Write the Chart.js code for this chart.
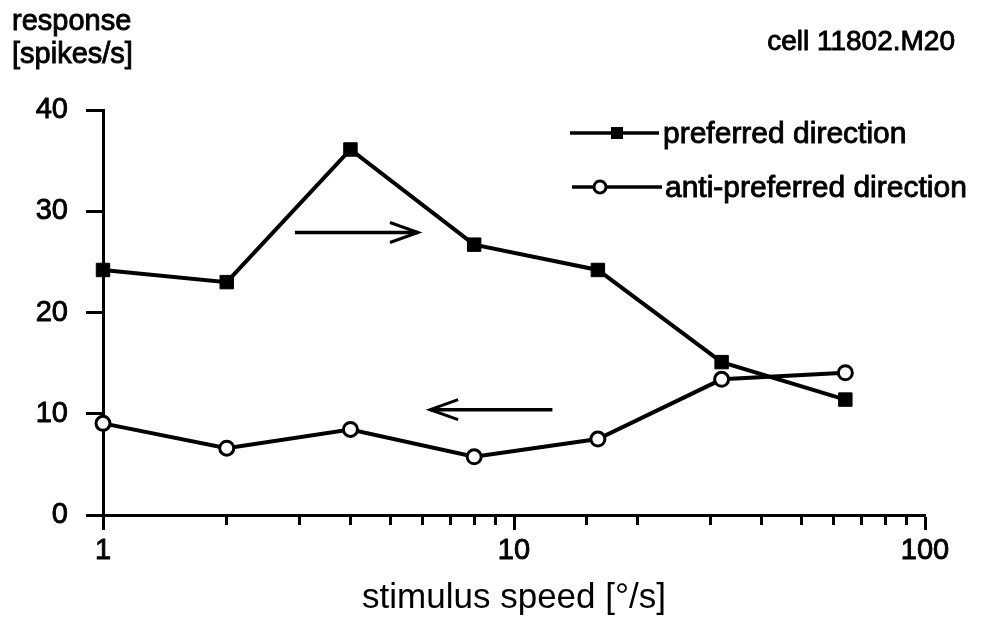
<!DOCTYPE html>
<html>
<head>
<meta charset="utf-8">
<title>speed tuning</title>
<script src="https://cdn.jsdelivr.net/npm/chart.js@4.4.1/dist/chart.umd.min.js"></script>
<style>
  html, body { margin: 0; padding: 0; background: #fff; }
  #wrap { width: 984px; height: 622px; }
</style>
</head>
<body>
<div id="wrap"><canvas id="chart" width="984" height="622"></canvas></div>
<script>
const speeds = [1, 2, 4, 8, 16, 32, 64]
const preferred = [24.2, 23.0, 36.1, 26.7, 24.2, 15.1, 11.4]
const antiPreferred = [9.05, 6.6, 8.45, 5.75, 7.5, 13.4, 14.05]
const seriesNames = ['preferred direction', 'anti-preferred direction']
const yTicks = [0, 10, 20, 30, 40]
const xLabels = [1, 10, 100]
const yTitle = ['response', '[spikes/s]']
const xTitle = 'stimulus speed [°/s]'
const cellName = 'cell 11802.M20'
// direction arrows, in data units (speed, response)
const arrows = [
  { from: [2.93, 27.9], to: [5.84, 27.9] },
  { from: [12.4, 10.4], to: [6.25, 10.4] }
]

const FONT = '"Liberation Sans", Arial, Helvetica, sans-serif'
const INK = 0.9 // extra stroke on text so it reads as heavy as the print

function points(values) {
  return speeds.map((s, i) => ({ x: s, y: values[i] }))
}
function isDecade(v) {
  const l = Math.log10(v)
  return Math.abs(l - Math.round(l)) < 1e-9
}

function drawMarker(ctx, style, x, y) {
  ctx.beginPath()
  if (style === 'rect') {
    ctx.rect(x - 6, y - 6, 12, 12)
    ctx.fillStyle = '#000'
    ctx.fill()
  } else {
    ctx.arc(x, y, 6, 0, Math.PI * 2)
    ctx.fillStyle = '#fff'
    ctx.fill()
    ctx.lineWidth = 3
    ctx.stroke()
  }
}

function inkText(ctx, text, x, y) {
  ctx.fillText(text, x, y)
  ctx.lineWidth = INK
  ctx.strokeText(text, x, y)
}

const decorations = {
  id: 'decorations',
  afterDraw(chart) {
    const ctx = chart.ctx
    const xs = chart.scales.x
    const ys = chart.scales.y
    ctx.save()
    ctx.strokeStyle = '#000'
    ctx.fillStyle = '#000'

    // arrows
    arrows.forEach(a => {
      const x1 = xs.getPixelForValue(a.from[0])
      const x2 = xs.getPixelForValue(a.to[0])
      const y = ys.getPixelForValue(a.from[1])
      const dir = Math.sign(x2 - x1)
      ctx.lineWidth = 3.5
      ctx.beginPath()
      ctx.moveTo(x1, y)
      ctx.lineTo(x2, y)
      ctx.stroke()
      ctx.lineWidth = 3
      ctx.beginPath()
      ctx.moveTo(x2 - dir * 28, y - 10)
      ctx.lineTo(x2, y)
      ctx.lineTo(x2 - dir * 28, y + 10)
      ctx.stroke()
    })

    // legend
    const rows = [
      { y: 133, x1: 570, x2: 659, mx: 617, tx: 663 },
      { y: 187, x1: 572, x2: 662, mx: 600, tx: 665 }
    ]
    ctx.font = `30px ${FONT}`
    ctx.textAlign = 'left'
    ctx.textBaseline = 'alphabetic'
    chart.data.datasets.forEach((ds, i) => {
      const r = rows[i]
      ctx.lineWidth = 3.5
      ctx.beginPath()
      ctx.moveTo(r.x1, r.y)
      ctx.lineTo(r.x2, r.y)
      ctx.stroke()
      drawMarker(ctx, ds.pointStyle, r.mx, r.y)
      ctx.fillStyle = '#000'
      inkText(ctx, ds.label, r.tx, r.y + 10)
    })

    // corner labels
    ctx.font = `29px ${FONT}`
    inkText(ctx, yTitle[0], 12, 30)
    inkText(ctx, yTitle[1], 12, 63)
    ctx.font = `28px ${FONT}`
    ctx.textAlign = 'right'
    inkText(ctx, cellName, 955, 50)
    ctx.restore()
  }
}

const tickFont = { family: FONT, size: 29 }

new Chart(document.getElementById('chart'), {
  type: 'line',
  data: {
    datasets: [
      {
        label: seriesNames[0],
        data: points(preferred),
        borderColor: '#000',
        backgroundColor: '#000',
        borderWidth: 4,
        pointStyle: 'rect',
        pointRadius: 9.5,
        pointBorderWidth: 1,
        pointBackgroundColor: '#000',
        clip: false
      },
      {
        label: seriesNames[1],
        data: points(antiPreferred),
        borderColor: '#000',
        backgroundColor: '#fff',
        borderWidth: 4,
        pointStyle: 'circle',
        pointRadius: 7,
        pointBorderWidth: 3,
        pointBackgroundColor: '#fff',
        clip: false
      }
    ]
  },
  options: {
    responsive: false,
    animation: false,
    devicePixelRatio: 1,
    layout: { padding: { top: 110, right: 59, left: 0, bottom: 0 } },
    plugins: {
      legend: { display: false },
      tooltip: { enabled: false }
    },
    scales: {
      x: {
        type: 'logarithmic',
        min: 1,
        max: 100,
        afterFit: s => { s.height = 107 },
        border: { color: '#000', width: 3 },
        grid: {
          drawOnChartArea: false,
          tickLength: 15,
          tickWidth: 3,
          tickColor: '#000',
          tickBorderDash: c => (c.tick && isDecade(c.tick.value)) ? [] : [8, 30]
        },
        ticks: {
          autoSkip: false,
          maxRotation: 0,
          padding: 4,
          color: '#000',
          textStrokeColor: '#000',
          textStrokeWidth: INK,
          font: tickFont,
          callback: v => xLabels.includes(v) ? String(v) : ''
        },
        title: {
          display: true,
          text: xTitle,
          color: '#000',
          font: { family: FONT, size: 35 },
          padding: { top: 0, bottom: 3 }
        }
      },
      y: {
        min: 0,
        max: 40,
        afterFit: s => { s.width = 103 },
        afterBuildTicks: s => { s.ticks = yTicks.map(v => ({ value: v })) },
        border: { color: '#000', width: 3 },
        grid: {
          drawOnChartArea: false,
          tickLength: 17,
          tickWidth: 3,
          tickColor: '#000'
        },
        ticks: {
          padding: 18,
          color: '#000',
          textStrokeColor: '#000',
          textStrokeWidth: INK,
          font: tickFont
        }
      }
    }
  },
  plugins: [decorations]
})
</script>
</body>
</html>
